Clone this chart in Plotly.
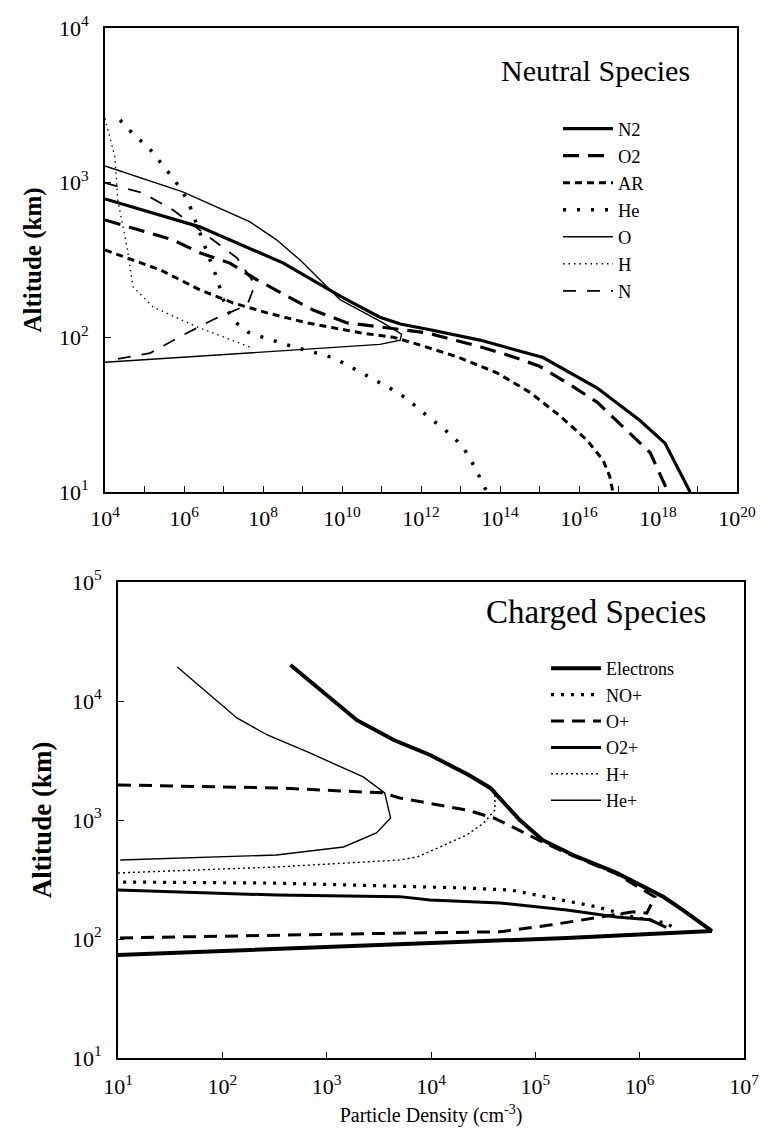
import plotly.graph_objects as go

# ---------------- Neutral species (density cm^-3, altitude km) ----------------
N2_density = [1e4, 2.5e6, 3.2e8, 2.3e9, 1.0e10, 9.1e10, 3.0e11, 1.7e12, 3.1e13, 1.23e15, 2.9e16, 3.5e17, 1.5e18, 6.5e18]
N2_alt = [785, 518, 303, 225, 182, 135, 122, 112, 96, 74, 47, 29, 20.7, 10]

O2_density = [1e4, 7.8e4, 5.2e5, 2.6e6, 1.45e7, 7.1e7, 4.8e8, 1.86e9, 1.35e10, 1.4e12, 3.1e13, 2.1e14, 1.0e15, 7.1e15, 2.9e16, 1.95e17, 6.3e17, 1.8e18]
O2_alt = [574, 494, 427, 351, 302, 235, 182, 150, 124, 107, 87, 75, 65, 48, 38, 24, 18, 10]

AR_density = [1e4, 4.3e4, 2.5e5, 2.6e6, 1.74e7, 1.26e8, 1.3e9, 2.9e10, 2.0e11, 6.3e11, 8.1e12, 8.3e13, 5.8e14, 3.3e15, 1.58e16, 4.1e16, 6.0e16, 7.2e16]
AR_alt = [367, 321, 273, 202, 167, 144, 124, 107, 100, 92, 75, 59, 44, 31, 21.7, 16, 12.6, 10]

He_density = [2.4e4, 5.1e4, 1.23e5, 2.45e5, 5.0e5, 9.3e5, 1.4e6, 6.9e6, 1.15e7, 1.95e7, 4.2e7, 1.0e8, 5.8e8, 5.9e9, 1.4e10, 1.86e11, 4.5e11, 9.3e11, 2.0e12, 5.1e12, 1.1e13, 1.86e13, 2.95e13, 4.7e13]
He_alt = [2540, 2065, 1702, 1363, 1089, 871, 708, 239, 155, 126, 108, 100, 87, 74, 66, 46, 40, 34, 29, 24, 19.9, 16, 12.7, 10]

O_density = [1e4, 9.3e5, 4.7e7, 2.2e8, 8.7e8, 2.75e9, 8.9e9, 1.1e11, 3.2e11, 3.0e11, 9.1e10, 1e4]
O_alt = [1283, 871, 557, 427, 316, 235, 175, 124, 105, 96, 90, 69]

H_density = [1e4, 1.78e4, 2.1e4, 3.6e4, 5.1e4, 1.66e5, 2.1e6, 5.6e7]
H_alt = [2600, 1466, 773, 384, 212, 157, 117, 85]

N_density = [1e4, 9.1e4, 5.2e5, 1.23e7, 2.2e7, 6.3e7, 4.0e7, 5.4e6, 7.9e5, 1.38e5, 1.26e4]
N_alt = [996, 857, 667, 367, 326, 219, 162, 130, 101, 79, 71]

# ---------------- Charged species (density cm^-3, altitude km) ----------------
E_density = [4.5e2, 1.95e3, 4.4e3, 9.8e3, 2.3e4, 3.7e4, 7.1e4, 1.17e5, 2.3e5, 6.0e5, 1.7e6, 2.6e6, 4.9e6, 2.0e5, 1e1]
E_alt = [20100, 6900, 4700, 3516, 2390, 1860, 1000, 680, 508, 359, 225, 175, 117, 102, 73.5]

NOp_density = [1.12e1, 3.3e2, 9.8e3, 2.2e4, 5.8e4, 1.38e5, 3.9e5, 8.7e5, 1.8e6, 2.3e6]
NOp_alt = [301, 295, 273, 268, 258, 221, 186, 153, 136, 119]

Op_density = [1e1, 3.3e2, 3.5e3, 5.0e3, 2.2e4, 4.0e4, 7.6e4, 1.17e5, 2.3e5, 6.0e5, 1.4e6, 1.17e6, 8.7e5, 2.9e5, 1.38e5, 4.6e4, 5.0e3, 1e1]
Op_alt = [1970, 1860, 1690, 1530, 1213, 1040, 792, 653, 500, 352, 225, 165, 169, 145, 131, 115, 112, 102]

O2p_density = [1e1, 3.3e2, 5.0e3, 9.8e3, 4.6e4, 2.0e5, 6.0e5, 1.26e6, 1.8e6]
O2p_alt = [258, 234, 227, 213, 201, 175, 153, 145, 125]

Hp_density = [1e1, 3.3e2, 5.0e3, 7.4e3, 1.05e4, 2.2e4, 3.2e4, 4.1e4, 4.1e4]
Hp_alt = [359, 403, 461, 489, 560, 748, 944, 1213, 1786]

Hep_density = [3.7e1, 1.38e2, 2.7e2, 6.9e2, 2.24e3, 3.6e3, 4.1e3, 3.0e3, 1.45e3, 3.3e2, 1.05e1]
Hep_alt = [19300, 7200, 5180, 3660, 2300, 1690, 1040, 778, 593, 508, 461]

# ---------------- tick labels ----------------
top_x_tickvals = [1e4, 1e5, 1e6, 1e7, 1e8, 1e9, 1e10, 1e11, 1e12, 1e13, 1e14, 1e15, 1e16, 1e17, 1e18, 1e19, 1e20]
top_x_ticktext = ["10<sup>4</sup>", "", "10<sup>6</sup>", "", "10<sup>8</sup>", "", "10<sup>10</sup>", "",
                  "10<sup>12</sup>", "", "10<sup>14</sup>", "", "10<sup>16</sup>", "", "10<sup>18</sup>", "", "10<sup>20</sup>"]
top_y_tickvals = [10, 100, 1000, 10000]
top_y_ticktext = ["10<sup>1</sup>", "10<sup>2</sup>", "10<sup>3</sup>", "10<sup>4</sup>"]
bot_x_tickvals = [1e1, 1e2, 1e3, 1e4, 1e5, 1e6, 1e7]
bot_x_ticktext = ["10<sup>1</sup>", "10<sup>2</sup>", "10<sup>3</sup>", "10<sup>4</sup>", "10<sup>5</sup>", "10<sup>6</sup>", "10<sup>7</sup>"]
bot_y_tickvals = [10, 100, 1000, 10000, 100000]
bot_y_ticktext = ["10<sup>1</sup>", "10<sup>2</sup>", "10<sup>3</sup>", "10<sup>4</sup>", "10<sup>5</sup>"]

SERIF = "Liberation Serif"

fig = go.Figure()


def add(x, y, name, width, dash, xa, ya, legend):
    fig.add_trace(go.Scatter(
        x=x, y=y, mode="lines", name=name,
        line=dict(color="black", width=width, dash=dash),
        xaxis=xa, yaxis=ya, legend=legend, hoverinfo="skip"))


add(N2_density, N2_alt, "N2", 3.2, "solid", "x", "y", "legend")
add(O2_density, O2_alt, "O2", 3.2, "16px,9px", "x", "y", "legend")
add(AR_density, AR_alt, "AR", 3, "7px,5px", "x", "y", "legend")
add(He_density, He_alt, "He", 3.5, "3px,11px", "x", "y", "legend")
add(O_density, O_alt, "O", 1.4, "solid", "x", "y", "legend")
add(H_density, H_alt, "H", 1.3, "1.5px,4px", "x", "y", "legend")
add(N_density, N_alt, "N", 1.8, "13px,11px", "x", "y", "legend")

add(E_density, E_alt, "Electrons", 4, "solid", "x2", "y2", "legend2")
add(NOp_density, NOp_alt, "NO+", 3.2, "3px,7px", "x2", "y2", "legend2")
add(Op_density, Op_alt, "O+", 3, "13px,8px", "x2", "y2", "legend2")
add(O2p_density, O2p_alt, "O2+", 3, "solid", "x2", "y2", "legend2")
add(Hp_density, Hp_alt, "H+", 1.4, "2px,3px", "x2", "y2", "legend2")
add(Hep_density, Hep_alt, "He+", 1.4, "solid", "x2", "y2", "legend2")

axis_common = dict(type="log", showline=True, linecolor="black", linewidth=2, mirror=True,
                   ticks="inside", ticklen=6, tickwidth=1.2, tickcolor="black", showgrid=False,
                   zeroline=False, automargin=False,
                   tickfont=dict(family=SERIF, size=22, color="black"))

fig.update_layout(
    width=763, height=1142,
    margin=dict(l=0, r=0, t=0, b=0, autoexpand=False),
    paper_bgcolor="white", plot_bgcolor="white",
    font=dict(family=SERIF, color="black"),
    xaxis=dict(axis_common, domain=[105 / 763, 737 / 763], range=[4, 20], anchor="y",
               tickmode="array", tickvals=top_x_tickvals, ticktext=top_x_ticktext, ticklabelstandoff=6),
    yaxis=dict(axis_common, domain=[1 - 492 / 1142, 1 - 28 / 1142], range=[1, 4], anchor="x",
               tickmode="array", tickvals=top_y_tickvals, ticktext=top_y_ticktext, ticklabelstandoff=10,
               title=dict(text="<b>Altitude (km)</b>", font=dict(family=SERIF, size=25, color="black"), standoff=10)),
    xaxis2=dict(axis_common, domain=[118 / 763, 744 / 763], range=[1, 7], anchor="y2",
                tickmode="array", tickvals=bot_x_tickvals, ticktext=bot_x_ticktext, ticklabelstandoff=8,
                title=dict(text="Particle Density (cm<sup>-3</sup>)", font=dict(family=SERIF, size=20, color="black"), standoff=10)),
    yaxis2=dict(axis_common, domain=[1 - 1058 / 1142, 1 - 582 / 1142], range=[1, 5], anchor="x2",
                tickmode="array", tickvals=bot_y_tickvals, ticktext=bot_y_ticktext, ticklabelstandoff=10,
                title=dict(text="<b>Altitude (km)</b>", font=dict(family=SERIF, size=27, color="black"), standoff=12)),
    legend=dict(x=558 / 763, y=1 - 110 / 1142, xanchor="left", yanchor="top",
                font=dict(family=SERIF, size=18.5, color="black"), bgcolor="rgba(0,0,0,0)",
                itemwidth=50, tracegroupgap=0, traceorder="normal"),
    legend2=dict(x=546 / 763, y=1 - 650 / 1142, xanchor="left", yanchor="top",
                 font=dict(family=SERIF, size=18, color="black"), bgcolor="rgba(0,0,0,0)",
                 itemwidth=50, tracegroupgap=0, traceorder="normal"),
    annotations=[
        dict(text="Neutral Species", x=692 / 763, y=1 - 70 / 1142, xref="paper", yref="paper",
             xanchor="right", yanchor="middle", showarrow=False,
             font=dict(family=SERIF, size=30, color="black")),
        dict(text="Charged Species", x=708 / 763, y=1 - 612 / 1142, xref="paper", yref="paper",
             xanchor="right", yanchor="middle", showarrow=False,
             font=dict(family=SERIF, size=33, color="black")),
    ],
)

fig.write_html("out.html")
